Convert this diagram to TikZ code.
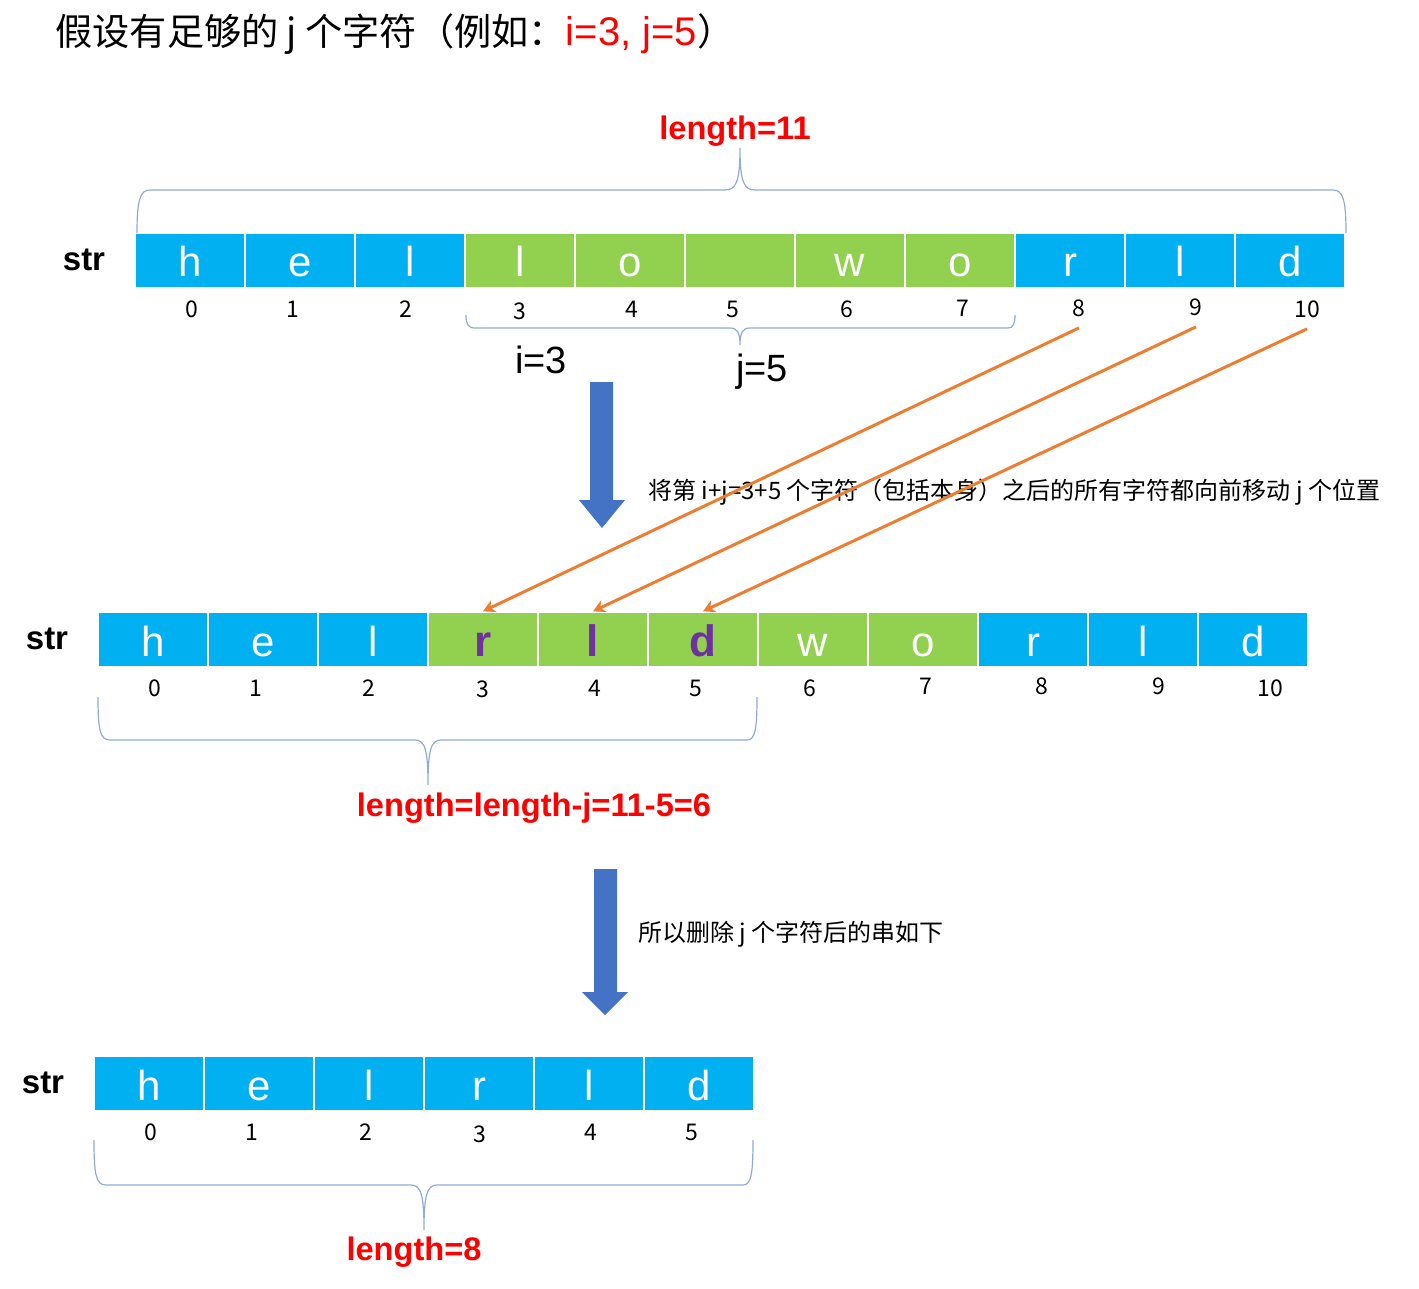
\documentclass[tikz,border=0pt]{standalone}
\usepackage{fontspec}
\setmainfont{Liberation Sans}
\newfontfamily\cjk{Noto Sans CJK SC}
\usetikzlibrary{arrows.meta}
\definecolor{cellblue}{HTML}{00B0F0}
\definecolor{cellgreen}{HTML}{92D050}
\definecolor{movepurple}{HTML}{7030A0}
\definecolor{braceblue}{HTML}{8FAADC}
\definecolor{arrowblue}{HTML}{4472C4}
\definecolor{moveorange}{HTML}{ED7D31}
\tikzset{
  cell/.style={draw=white,line width=0.7pt,minimum width=55pt,minimum height=27.5pt,
    inner sep=0pt,text height=18pt,text depth=1.5pt,text=white,font=\fontsize{21}{21}\selectfont},
  plain/.style={},
  moved/.style={text=movepurple,font=\bfseries\fontsize{22}{22}\selectfont},
  idx/.style={inner sep=0pt,font=\cjk\fontsize{11.5}{11.5}\selectfont},
  strlab/.style={inner sep=0pt,font=\bfseries\fontsize{16.5}{16.5}\selectfont},
  redlab/.style={inner sep=0pt,text=red,font=\bfseries\fontsize{16.3}{16.3}\selectfont},
  ijlab/.style={inner sep=0pt,font=\fontsize{19}{19}\selectfont},
  note/.style={inner sep=0pt,anchor=west,font=\cjk\fontsize{12}{12}\selectfont},
  brace/.style={draw=braceblue,line width=0.6pt},
  bigarrow/.style={fill=arrowblue},
  moveline/.style={moveorange,line width=1.5pt,-{Stealth[length=6pt,width=6.5pt]}}
}
\begin{document}
\begin{tikzpicture}[x=0.5pt,y=-0.5pt]
\useasboundingbox (0,0) rectangle (1419,1289);
\node[anchor=west,inner sep=0pt,font=\cjk\fontsize{18.6}{18.6}\selectfont] (title) at (55,34)
  {假设有足够的 j 个字符（例如：{\color{red}\normalfont\fontsize{20}{20}\selectfont i=3, j=5}）};

% original string
\node[strlab] (s1) at (84,260) {str};
\foreach \c/\col [count=\k from 0] in {h/cellblue,e/cellblue,l/cellblue,l/cellgreen,o/cellgreen,{}/cellgreen,w/cellgreen,o/cellgreen,r/cellblue,l/cellblue,d/cellblue}
  \node[cell,fill=\col] (a\k) at ({190+110*\k},260.5) {\c};
\foreach \x/\y [count=\k from 0] in {192/309,293/309,406/309,520/311,632/309,733/309,847/309,963/308,1079/308,1196/307,1307/309}
  \node[idx] (ia\k) at (\x,\y) {\k};
\draw[brace] (137,233) .. controls (137,200) and (140,190) .. (150,190) -- (725,190)
  .. controls (736,190) and (740,182) .. (740,148) .. controls (740,182) and (744,190) .. (755,190)
  -- (1333,190) .. controls (1343,190) and (1346,200) .. (1346,233);
\node[redlab] (len1) at (735,131) {length=11};
\draw[brace] (466,315) .. controls (466,324) and (468,328) .. (475,328) -- (730,328)
  .. controls (737,328) and (740,332) .. (740,345) .. controls (740,332) and (743,328) .. (750,328)
  -- (1008,328) .. controls (1013,328) and (1015,324) .. (1015,315);
\node[ijlab] (ilab) at (541,360) {i=3};
\node[ijlab] (jlab) at (762,372) {j=5};

\fill[bigarrow] (590,382) -- (613,382) -- (613,500) -- (625,500) -- (602,528) -- (579,500) -- (590,500) -- cycle;
\node[note] (step1) at (648,492) {将第 i+j=3+5 个字符（包括本身）之后的所有字符都向前移动 j 个位置};

% after moving
\node[strlab] (s2) at (47,639) {str};
\foreach \c/\col/\st [count=\k from 0] in {h/cellblue/plain,e/cellblue/plain,l/cellblue/plain,r/cellgreen/moved,l/cellgreen/moved,d/cellgreen/moved,w/cellgreen/plain,o/cellgreen/plain,r/cellblue/plain,l/cellblue/plain,d/cellblue/plain}
  \node[cell,fill=\col,\st] (b\k) at ({153+110*\k},639.5) {\c};
\foreach \x/\y [count=\k from 0] in {155/688,256/688,369/688,483/689,595/688,696/688,810/688,926/686,1042/686,1159/686,1270/688}
  \node[idx] (ib\k) at (\x,\y) {\k};
\foreach \i/\j in {8/3,9/4,10/5}
  \draw[moveline] ([yshift=-5.5pt]ia\i.south) -- (b\j.north);
\draw[brace] (98,697) .. controls (98,730) and (100,740) .. (110,740) -- (415,740)
  .. controls (425,740) and (428,750) .. (428,785) .. controls (428,750) and (431,740) .. (441,740)
  -- (747,740) .. controls (755,740) and (757,730) .. (757,697);
\node[redlab] (len2) at (534,808) {length=length-j=11-5=6};

\fill[bigarrow] (594,869) -- (617,869) -- (617,992) -- (628,992) -- (605,1015) -- (582,992) -- (594,992) -- cycle;
\node[note] (step2) at (638,934) {所以删除 j 个字符后的串如下};

% result
\node[strlab] (s3) at (43,1083) {str};
\foreach \c [count=\k from 0] in {h,e,l,r,l,d}
  \node[cell,fill=cellblue] (c\k) at ({149+110*\k},1083.5) {\c};
\foreach \x/\y [count=\k from 0] in {151/1132,252/1132,366/1132,480/1134,591/1132,692/1132}
  \node[idx] (ic\k) at (\x,\y) {\k};
\draw[brace] (94,1140) .. controls (94,1175) and (96,1185) .. (106,1185) -- (411,1185)
  .. controls (421,1185) and (424,1195) .. (424,1230) .. controls (424,1195) and (427,1185) .. (437,1185)
  -- (743,1185) .. controls (751,1185) and (753,1175) .. (753,1140);
\node[redlab] (len3) at (414,1252) {length=8};
\end{tikzpicture}
\end{document}
